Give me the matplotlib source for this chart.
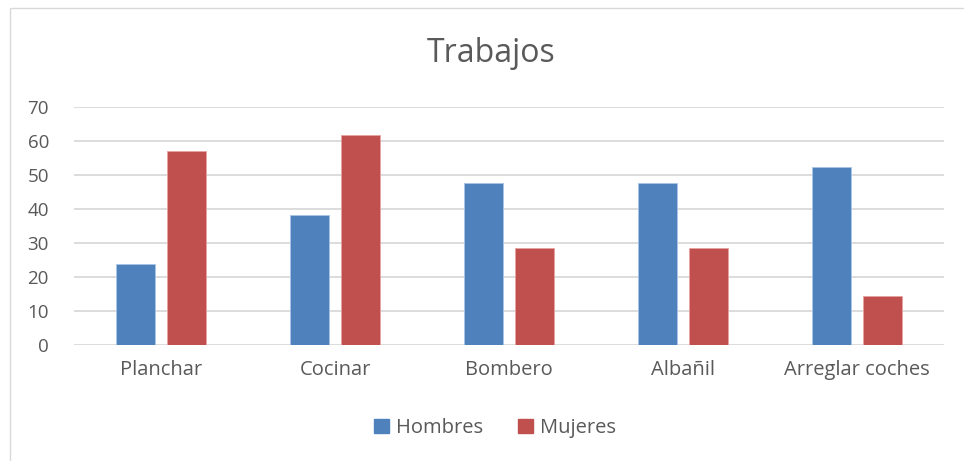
import numpy as np
import matplotlib
matplotlib.use('Agg')
import matplotlib.pyplot as plt
from matplotlib.patches import Rectangle, Patch

categorias = ['Planchar', 'Cocinar', 'Bombero', 'Albañil', 'Arreglar coches']
hombres = [23.8, 38.1, 47.6, 47.6, 52.4]
mujeres = [57.1, 61.9, 28.6, 28.6, 14.3]
yticks = [0, 10, 20, 30, 40, 50, 60, 70]

azul = '#4f81bd'
rojo = '#c0504d'
gris_texto = '#595959'

plt.rcParams['font.family'] = ['Open Sans', 'DejaVu Sans']

fig = plt.figure(figsize=(9.64, 4.61), dpi=100)
# marco del grafico
fig.patches.append(Rectangle((10 / 964, -0.1), 1.1, 1 - 8 / 461 + 0.1,
                             transform=fig.transFigure, fill=False,
                             edgecolor='#d9d9d9', lw=1))

ax = fig.add_axes([74 / 964, 1 - 345 / 461, 870 / 964, 238 / 461])
x = np.arange(len(categorias))
w = 0.224
off = 0.144
ax.bar(x - off, hombres, w, color=azul, edgecolor='#a9c4e6', lw=0.6, zorder=3)
ax.bar(x + off, mujeres, w, color=rojo, edgecolor='#e6a3a1', lw=0.6, zorder=3)

ax.set_xlim(-0.5, len(categorias) - 0.5)
ax.set_ylim(0, 70)
ax.set_yticks(yticks)
ax.set_xticks(x)
ax.set_xticklabels(categorias, fontsize=14.5)
ax.tick_params(axis='both', length=0, colors=gris_texto)
ax.tick_params(axis='y', labelsize=13.5, pad=18)
ax.tick_params(axis='x', pad=11)
ax.grid(axis='y', color='#d9d9d9', lw=1.3, zorder=0)
for s in ax.spines.values():
    s.set_visible(False)

fig.text(491 / 964, 1 - 53 / 461, 'Trabajos', ha='center', va='center',
         fontsize=23, color=gris_texto)

handles = [Patch(color=azul, label='Hombres'), Patch(color=rojo, label='Mujeres')]
fig.legend(handles=handles, loc='center', bbox_to_anchor=(495 / 964, 1 - 428 / 461),
           ncol=2, frameon=False, fontsize=14.5, handlelength=0.75, handleheight=0.75,
           handletextpad=0.35, columnspacing=1.7, labelcolor=gris_texto)

fig.savefig('out.png', dpi=100)
